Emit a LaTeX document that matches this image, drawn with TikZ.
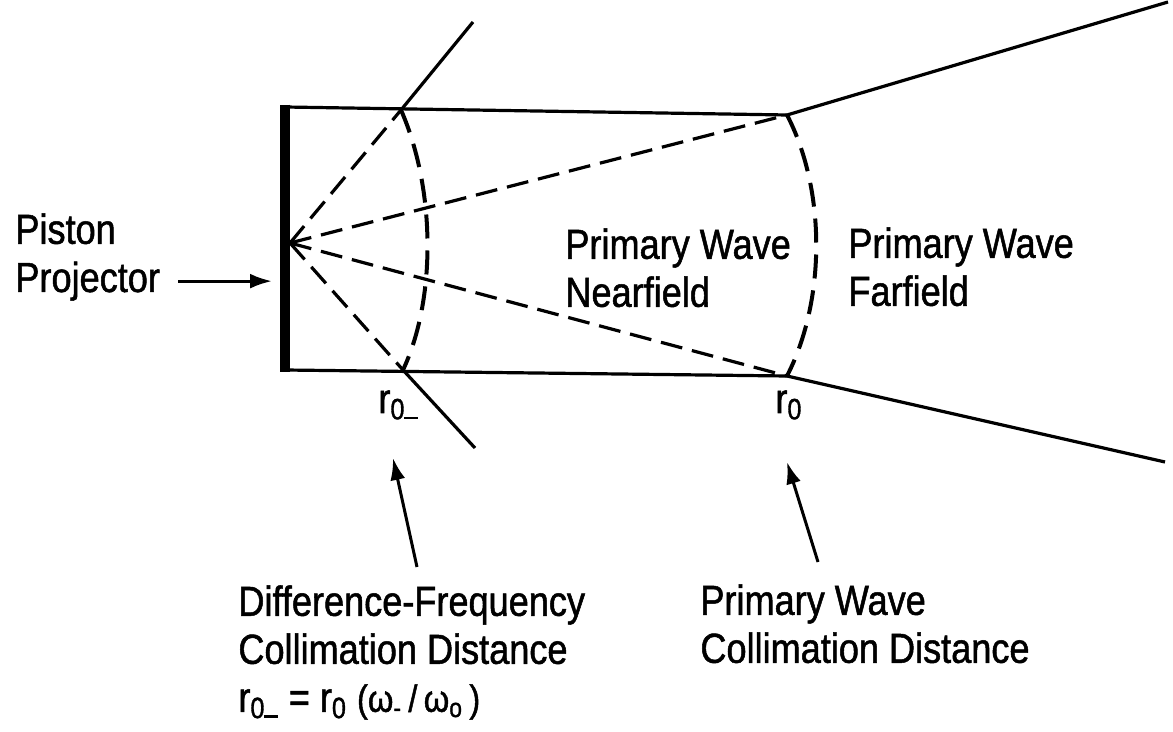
\documentclass[tikz,border=0pt]{standalone}
\usepackage{fontspec}
\setmainfont{Liberation Sans}[FakeStretch=0.86, FakeBold=1.2]
\usetikzlibrary{positioning,arrows.meta}

\newcommand{\rzm}{r\textsubscript{0\rule{0.45em}{0.09em}}}
\newcommand{\rzero}{r\textsubscript{0}}

\begin{document}
\begin{tikzpicture}[
  x=0.5pt, y=-0.5pt,
  font=\fontsize{21}{24}\selectfont,
  rotulo/.style={inner sep=0pt, anchor=north west, align=left},
  borda/.style={line width=1.6pt},
  pistao/.style={line width=5pt},
  raio/.style={line width=1.6pt, dash pattern=on 11pt off 5pt},
  frente/.style={line width=2pt, dash pattern=on 12pt off 6pt},
  seta/.style={-{Latex[length=11pt,width=7.5pt]}, line width=1.5pt}
]
  \useasboundingbox (0,0) rectangle (1173,732);

  % Projetor e feixe
  \coordinate (pTopo) at (285,107);
  \coordinate (pBase) at (285,370);
  \coordinate (centro) at (290,243);
  \coordinate (pertoTopo) at (401,110);
  \coordinate (pertoBase) at (403,370);
  \coordinate (longeTopo) at (787,115);
  \coordinate (longeBase) at (787,376);
  \coordinate (raioA) at (473,22);
  \coordinate (raioB) at (475,448);
  \coordinate (raioC) at (1168,2);
  \coordinate (raioD) at (1165,462);

  \draw[pistao] ([yshift=1.2pt]pTopo) -- ([yshift=-1.2pt]pBase);
  \draw[borda] (pTopo) -- (longeTopo) -- (raioC);
  \draw[borda] (pBase) -- (longeBase) -- (raioD);
  \draw[borda] (pertoTopo) -- (raioA);
  \draw[borda] (pertoBase) -- (raioB);

  \draw[raio] (centro) -- (pertoTopo);
  \draw[raio] (centro) -- (longeTopo);
  \draw[raio] (centro) -- (longeBase);
  \draw[raio] (centro) -- (pertoBase);

  \draw[frente] (pertoTopo) .. controls (436,190) and (436,300) .. (pertoBase);
  \draw[frente] (longeTopo) .. controls (826,190) and (826,300) .. (longeBase);

  % Rotulos
  \node[rotulo] (piston) at (15,213) {Piston};
  \node[rotulo, anchor=base west] (projetor) at (15,292) {Projector};
  \node[rotulo] (perto) at (565,228) {Primary Wave\\Nearfield};
  \node[rotulo] (longe) at (848,227) {Primary Wave\\Farfield};
  \node[rotulo] (rzm) at (378,390) {\rzm};
  \node[rotulo] (rzero) at (775,390) {\rzero};
  \node[rotulo] (difTxt) at (238,585)
       {Difference-Frequency\\Collimation Distance\\
        \rzm{} = \rzero{} {\fontsize{19}{24}\selectfont(ω\textsubscript{-}\,/\,ω\textsubscript{o}\,)}};
  \node[rotulo] (primTxt) at (700,584) {Primary Wave\\Collimation Distance};

  % Setas
  \coordinate (caudaDif) at (417,567);
  \coordinate (alvoDif) at (393,458);
  \coordinate (caudaPrim) at (818,562);
  \coordinate (alvoPrim) at (787,462);

  \draw[seta, shorten >=6.5pt] ([xshift=9pt]projetor.east) -- (projetor.east -| pTopo);
  \draw[seta] (caudaDif) -- (alvoDif);
  \draw[seta] (caudaPrim) -- (alvoPrim);
\end{tikzpicture}
\end{document}
